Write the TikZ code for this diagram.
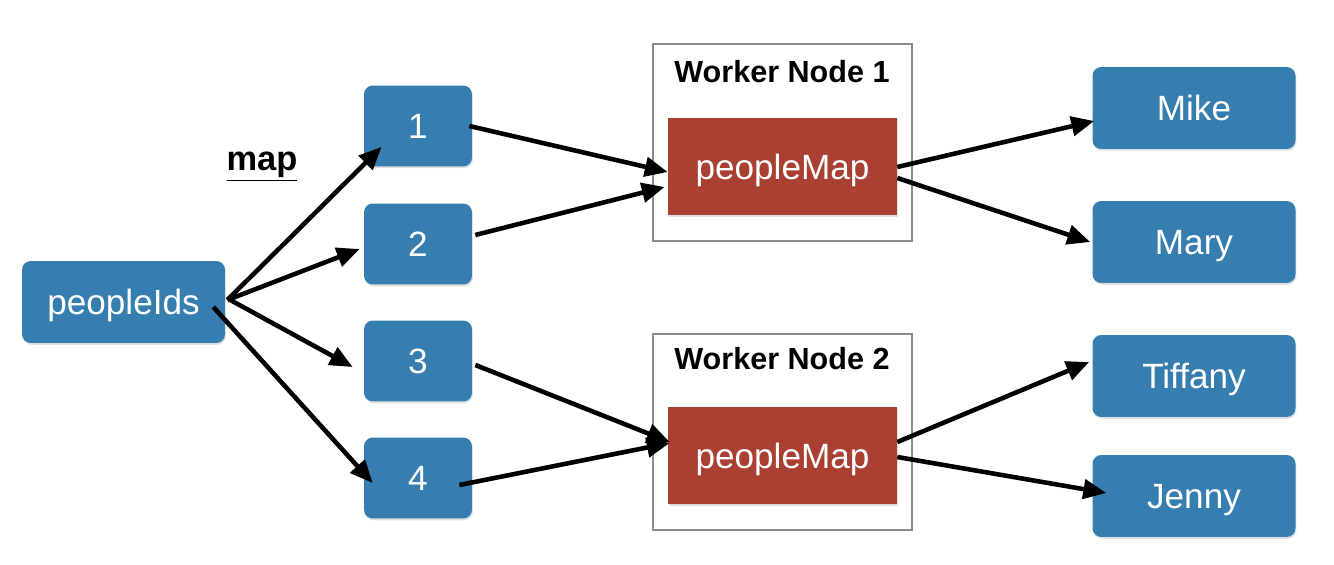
\documentclass[tikz,border=0pt]{standalone}
\usepackage{fontspec}
\setmainfont{Liberation Sans}
\usepackage{xcolor}
\usepackage{tikz}
\usetikzlibrary{arrows.meta,positioning,calc,shadows}
\definecolor{cardblue}{RGB}{54,126,175}
\definecolor{mapred}{RGB}{170,64,50}
\definecolor{framegray}{RGB}{140,140,140}

\begin{document}
\begin{tikzpicture}[x=0.02cm, y=-0.02cm,
  card/.style={fill=cardblue, rounded corners=5pt, text=white,
    font=\fontsize{20}{24}\selectfont, inner sep=0pt, text depth=0pt,
    drop shadow={shadow xshift=0.5pt, shadow yshift=-1pt, opacity=0.25}},
  wide/.style={card, minimum width=4.06cm, minimum height=1.64cm},
  part/.style={card, minimum width=2.16cm, minimum height=1.62cm},
  mapper/.style={fill=mapred, text=white, font=\fontsize{20}{24}\selectfont,
    minimum width=4.58cm, minimum height=1.96cm, inner sep=0pt, text depth=0pt,
    drop shadow={shadow xshift=0.5pt, shadow yshift=-1pt, opacity=0.25}},
  worker/.style={draw=framegray, line width=1.1pt, minimum width=5.18cm,
    minimum height=3.93cm, inner sep=0pt},
  title/.style={font=\bfseries\fontsize{17.4}{20}\selectfont},
  flow/.style={-{Triangle[length=13pt,width=11pt]}, line width=2.6pt, draw=black}
]
\useasboundingbox (0,0) rectangle (1334,564);

\node[worker] (W1) at (782.5,142.5) {};
\node[worker] (W2) at (782.5,432) {};
\node[title] (T1) at (782,72) {Worker Node 1};
\node[title] (T2) at (782,359) {Worker Node 2};
\node[mapper] (M1) at (782.5,166.5) {peopleMap};
\node[mapper] (M2) at (782.5,455.5) {peopleMap};

\node[wide] (P) at (123.5,302) {peopleIds};
\node[part] (N1) at (418,126) {1};
\node[part] (N2) at (418,244) {2};
\node[part] (N3) at (418,361) {3};
\node[part] (N4) at (418,478) {4};

\node[wide] (mike) at (1194,108) {Mike};
\node[wide] (mary) at (1194,242) {Mary};
\node[wide] (tiffany) at (1194,376) {Tiffany};
\node[wide] (jenny) at (1194,496) {Jenny};

\node[font=\bfseries\fontsize{19.6}{22}\selectfont] (map) at (262,167) {\underline{map}};

\draw[flow] ($(P.east)+(2,-2)$) -- ($(N1.south west)+(18,-20)$);
\draw[flow] ($(P.east)+(2,-2)$) -- ($(N2.west)+(-4,5)$);
\draw[flow] ($(P.east)+(5,-2)$) -- ($(N3.west)+(-11,6)$);
\draw[flow] ($(P.east)+(-12,5)$) -- ($(N4.west)+(9,5)$);

\draw[flow] ($(N1.east)+(-3,0)$) -- ($(M1.west)+(0,5.5)$);
\draw[flow] ($(N2.east)+(3,-9)$) -- ($(M1.west)+(-3,20.5)$);
\draw[flow] ($(N3.east)+(3,4)$) -- ($(M2.west)+(2,-13.5)$);
\draw[flow] ($(N4.east)+(-13,7)$) -- ($(M2.west)+(2,-12.5)$);

\draw[flow] ($(M1.east)+(0,0.5)$) -- ($(mike.west)+(2,13)$);
\draw[flow] ($(M1.east)+(0,11.5)$) -- ($(mary.west)+(-2,0)$);
\draw[flow] ($(M2.east)+(0,-13.5)$) -- ($(tiffany.west)+(-3,-14)$);
\draw[flow] ($(M2.east)+(0,1.5)$) -- ($(jenny.west)+(14,-3)$);
\end{tikzpicture}
\end{document}
